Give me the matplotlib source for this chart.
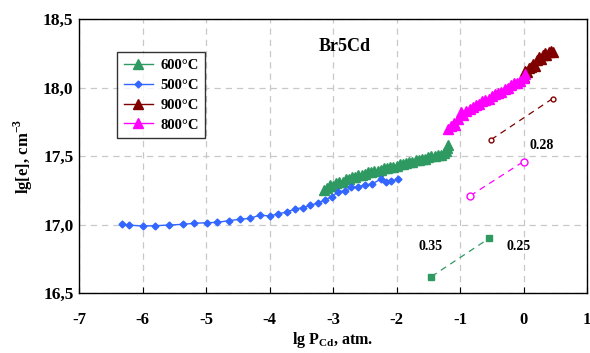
import matplotlib
matplotlib.use("Agg")
import matplotlib.pyplot as plt
from matplotlib.ticker import FuncFormatter

# 500 C
x500 = [-6.33, -6.22, -6.00, -5.80, -5.59, -5.37, -5.19, -4.99, -4.82, -4.64,
        -4.47, -4.31, -4.15, -4.00, -3.86, -3.73, -3.60, -3.48, -3.36, -3.24,
        -3.13, -3.02, -2.92, -2.81, -2.71, -2.60, -2.50, -2.39, -2.25, -2.17,
        -2.08, -1.97]
y500 = [17.006, 16.996, 16.989, 16.991, 16.996, 17.001, 17.009, 17.013, 17.016, 17.028,
        17.038, 17.045, 17.069, 17.062, 17.079, 17.091, 17.113, 17.123, 17.140, 17.157,
        17.18, 17.203, 17.240, 17.247, 17.271, 17.276, 17.288, 17.296, 17.330, 17.313,
        17.320, 17.330]

# 600 C
x600 = [-3.15, -3.10, -3.05, -3.00, -2.95, -2.90, -2.85, -2.80, -2.75, -2.70,
        -2.65, -2.60, -2.55, -2.50, -2.45, -2.40, -2.35, -2.30, -2.25, -2.20,
        -2.15, -2.10, -2.05, -2.00, -1.95, -1.90, -1.85, -1.80, -1.75, -1.70,
        -1.65, -1.60, -1.55, -1.50, -1.45, -1.40, -1.35, -1.30, -1.25, -1.22,
        -1.20, -1.19]
y600 = [17.25, 17.27, 17.29, 17.28, 17.30, 17.31, 17.31, 17.33, 17.33, 17.35,
        17.35, 17.36, 17.36, 17.37, 17.38, 17.38, 17.39, 17.39, 17.40, 17.41,
        17.41, 17.42, 17.42, 17.43, 17.44, 17.44, 17.45, 17.46, 17.46, 17.47,
        17.47, 17.48, 17.48, 17.49, 17.50, 17.50, 17.51, 17.51, 17.52, 17.54,
        17.56, 17.58]

# 900 C
x900 = [0.00, 0.03, 0.06, 0.09, 0.12, 0.15, 0.18, 0.21, 0.24, 0.27,
        0.30, 0.33, 0.36, 0.40, 0.43, 0.46]
y900 = [18.08, 18.12, 18.11, 18.14, 18.15, 18.17, 18.16, 18.20, 18.22, 18.21,
        18.24, 18.25, 18.24, 18.26, 18.27, 18.26]

# 800 C
x800 = [-1.19, -1.15, -1.10, -1.08, -1.03, -0.98, -0.95, -0.90, -0.85, -0.80,
        -0.75, -0.70, -0.65, -0.60, -0.55, -0.50, -0.45, -0.40, -0.35, -0.30,
        -0.25, -0.20, -0.15, -0.10, -0.05, 0.00, 0.02]
y800 = [17.70, 17.72, 17.74, 17.73, 17.77, 17.82, 17.80, 17.83, 17.84, 17.86,
        17.87, 17.88, 17.90, 17.91, 17.92, 17.94, 17.95, 17.96, 17.97, 17.99,
        18.00, 18.02, 18.03, 18.03, 18.05, 18.07, 18.10]

# slope lines
slope900_x = [-0.51, 0.46]
slope900_y = [17.62, 17.92]
slope800_x = [-0.84, 0.00]
slope800_y = [17.21, 17.46]
slope600_x = [-1.45, -0.54]
slope600_y = [16.62, 16.90]

notes = [("0.28", 0.29, 17.58), ("0.35", -1.46, 16.84), ("0.25", -0.08, 16.84)]

green = "#2e9960"
blue = "#3366ff"
maroon = "#800000"
magenta = "#ff00ff"

plt.rcParams["font.family"] = ["Liberation Serif", "DejaVu Serif"]
plt.rcParams["font.weight"] = "bold"
plt.rcParams["axes.unicode_minus"] = False
plt.rcParams["mathtext.fontset"] = "custom"
plt.rcParams["mathtext.bf"] = "Liberation Serif:bold"
plt.rcParams["mathtext.rm"] = "Liberation Serif:bold"

fig = plt.figure(figsize=(5.9, 3.53), dpi=100)
ax = fig.add_axes([0.134, 0.170, 0.861, 0.776])

ax.plot(x600, y600, color=green, marker="^", ms=6.5, lw=1, label="600°C")
ax.plot(x500, y500, color=blue, marker="D", ms=3.5, lw=1, label="500°C")
ax.plot(x900, y900, color=maroon, marker="^", ms=6.5, lw=1, label="900°C")
ax.plot(x800, y800, color=magenta, marker="^", ms=6.5, lw=1, label="800°C")

ax.plot(slope900_x, slope900_y, color=maroon, ls=(0, (5, 4)), lw=0.9,
        marker="o", ms=3.5, mfc="white")
ax.plot(slope800_x, slope800_y, color=magenta, ls=(0, (5, 4)), lw=0.9,
        marker="o", ms=5, mfc="white")
ax.plot(slope600_x, slope600_y, color=green, ls=(0, (5, 4)), lw=0.9,
        marker="s", ms=4)

for txt, tx, ty in notes:
    ax.text(tx, ty, txt, fontsize=10, fontweight="bold", ha="center", va="center")

ax.text(-2.81, 18.30, "Br5Cd", fontsize=13, fontweight="bold", ha="center", va="center")

ax.set_xlim(-7, 1)
ax.set_ylim(16.5, 18.5)
ax.set_xticks(range(-7, 2))
ax.set_yticks([16.5, 17.0, 17.5, 18.0, 18.5])
ax.yaxis.set_major_formatter(FuncFormatter(lambda v, p: f"{v:.1f}".replace(".", ",")))
ax.tick_params(direction="in", length=4)
ax.tick_params(axis="x", labelsize=12, pad=14)
ax.tick_params(axis="y", labelsize=12.5, pad=4, length=0)
for lab in ax.get_xticklabels() + ax.get_yticklabels():
    lab.set_fontweight("bold")

ax.grid(True, color="#c8c8c8", ls=(0, (5, 4)), lw=0.9)
ax.set_axisbelow(True)
for s in ax.spines.values():
    s.set_linewidth(1.0)

ax.set_xlabel("lg P$_{\\mathbf{Cd}}$, atm.", fontsize=11.5, fontweight="bold", labelpad=1)
ax.set_ylabel("lg[e], cm$^{\\mathbf{-3}}$", fontsize=12, fontweight="bold", labelpad=6)

leg = ax.legend(loc="upper left", bbox_to_anchor=(0.075, 0.878), fontsize=10.5,
                frameon=True, fancybox=False, edgecolor="black",
                handlelength=2.0, borderpad=0.45, labelspacing=0.45,
                handletextpad=0.5, borderaxespad=0)
leg.get_frame().set_linewidth(1.0)
for t in leg.get_texts():
    t.set_fontweight("bold")

fig.savefig("out.png", dpi=100)
